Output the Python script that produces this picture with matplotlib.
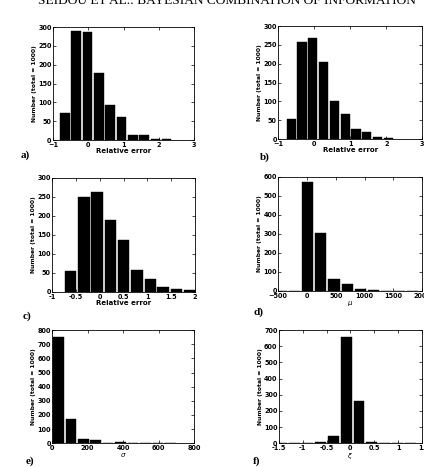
import numpy as np
import matplotlib
matplotlib.use("Agg")
import matplotlib.pyplot as plt

# histogram data (total = 1000 each)
a_centers = [-0.66, -0.34, -0.02, 0.30, 0.62, 0.94, 1.26, 1.58, 1.90, 2.22]
a_counts = [72, 290, 288, 178, 92, 60, 13, 13, 3, 2]

b_centers = [-0.64, -0.34, -0.04, 0.26, 0.56, 0.86, 1.16, 1.46, 1.76, 2.06]
b_counts = [53, 257, 268, 205, 102, 67, 27, 18, 6, 2]

c_centers = [-0.61, -0.33, -0.06, 0.22, 0.50, 0.78, 1.06, 1.33, 1.61, 1.88]
c_counts = [55, 250, 262, 190, 137, 58, 35, 12, 8, 4]

d_centers = [-444, -216, 12, 240, 468, 696, 924, 1152, 1380, 1608, 1836]
d_counts = [1, 1, 575, 305, 65, 37, 12, 6, 2, 1, 1]

e_centers = [35, 105, 175, 245, 315, 385, 455, 525, 595, 665]
e_counts = [750, 170, 30, 20, 2, 8, 3, 3, 3, 3]

f_centers = [-1.44, -1.17, -0.90, -0.63, -0.36, -0.09, 0.18, 0.45, 0.72, 0.99, 1.26]
f_counts = [1, 2, 2, 5, 47, 655, 262, 8, 3, 2, 2]

panels = [
    # label, centers, counts, xlim, xticks, xticklabels, ylim, yticks, xlabel, rect
    ("a)", a_centers, a_counts, (-1, 3), [-1, 0, 1, 2, 3], None,
     (0, 300), range(0, 301, 50), "Relative error", [0.125, 0.700, 0.333, 0.242]),
    ("b)", b_centers, b_counts, (-1, 3), [-1, 0, 1, 2, 3], None,
     (0, 300), range(0, 301, 50), "Relative error", [0.656, 0.702, 0.340, 0.242]),
    ("c)", c_centers, c_counts, (-1, 2), [-1, -0.5, 0, 0.5, 1, 1.5, 2],
     ["-1", "-0.5", "0", "0.5", "1", "1.5", "2"],
     (0, 300), range(0, 301, 50), "Relative error", [0.123, 0.375, 0.337, 0.244]),
    ("d)", d_centers, d_counts, (-500, 2000), [-500, 0, 500, 1000, 1500, 2000], None,
     (0, 600), range(0, 601, 100), r"$\mu$", [0.656, 0.377, 0.340, 0.244]),
    ("e)", e_centers, e_counts, (0, 800), [0, 200, 400, 600, 800], None,
     (0, 800), range(0, 801, 100), r"$\sigma$", [0.123, 0.051, 0.335, 0.242]),
    ("f)", f_centers, f_counts, (-1.5, 1.5), [-1.5, -1, -0.5, 0, 0.5, 1, 1.5],
     ["-1.5", "-1", "-0.5", "0", "0.5", "1", "1."],
     (0, 700), range(0, 701, 100), r"$\xi$", [0.658, 0.051, 0.337, 0.242]),
]

label_pos = {"a)": (25, 155), "b)": (265, 157), "c)": (27, 316),
             "d)": (259, 312), "e)": (30, 461), "f)": (257, 461)}

W, H = 424, 467
fig = plt.figure(figsize=(W / 100, H / 100), dpi=100)

# running header of the journal page, cut by the top edge
fig.text(0.535, 1 - 3.5 / H, "SEIDOU ET AL.: BAYESIAN COMBINATION OF INFORMATION",
         ha="center", va="baseline", fontsize=9.6, family="Liberation Serif")

for lab, centers, counts, xlim, xticks, xtl, ylim, yticks, xlabel, rect in panels:
    ax = fig.add_axes(rect)
    width = 0.85 * (centers[1] - centers[0])
    ax.bar(centers, counts, width=width, color="black", edgecolor="black", linewidth=0.3)
    ax.set_xlim(*xlim)
    ax.set_ylim(*ylim)
    ax.set_xticks(xticks)
    if xtl is not None:
        ax.set_xticklabels(xtl)
    ax.set_yticks(list(yticks))
    ax.tick_params(direction="in", top=True, right=True, length=2, width=0.5,
                   labelsize=4.7, pad=1)
    ax.tick_params(axis="x", pad=1.5)
    for t in ax.get_xticklabels() + ax.get_yticklabels():
        t.set_fontweight("bold")
    for s in ax.spines.values():
        s.set_linewidth(0.6)
    ax.set_xlabel(xlabel, fontsize=5, fontweight="bold", labelpad=0)
    ax.set_ylabel("Number (total = 1000)", fontsize=4.3, fontweight="bold", labelpad=1)
    x, y = label_pos[lab]
    fig.text(x / W, 1 - y / H, lab, ha="center", va="center", fontsize=8,
             fontweight="bold", family="Liberation Serif")

fig.savefig("out.png", dpi=100)
